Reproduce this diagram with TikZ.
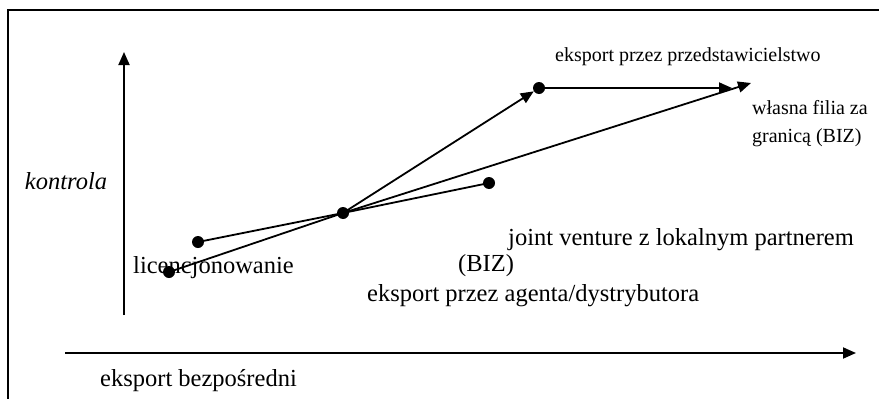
\documentclass[tikz,border=0pt]{standalone}
\usepackage{fontspec}
\setmainfont{Liberation Serif}
\usetikzlibrary{arrows.meta}
\begin{document}
\begin{tikzpicture}[x=1pt,y=-1pt,
  conn/.style={line width=1.8pt},
  arr/.style={line width=1.8pt,-{Triangle[length=13pt,width=11pt]}},
  dotpt/.style={circle,fill=black,inner sep=0pt,minimum size=12pt},
  big/.style={font=\fontsize{24.5}{28}\selectfont,inner sep=0pt},
  small/.style={font=\fontsize{20}{24}\selectfont,inner sep=0pt}]
\useasboundingbox (0,0) rectangle (879,399);
% frame
\draw[line width=1.2pt] (8,399) -- (8,10) -- (879,10);
% axes
\coordinate (v0) at (124,315);
\coordinate (v1) at (124,52);
\coordinate (h0) at (65,353);
\coordinate (h1) at (856,353);
\draw[arr] (v0) -- (v1);
\draw[arr] (h0) -- (h1);
% points
\node[dotpt] (A) at (169,272) {};
\node[dotpt] (B) at (198,242) {};
\node[dotpt] (C) at (343,213) {};
\node[dotpt] (D) at (489,183) {};
\node[dotpt] (E) at (539,88) {};
\coordinate (F) at (732,88);
\coordinate (G) at (751,83);
% connectors
\draw[conn] (A.center) -- (C.center);
\draw[conn] (B.center) -- (C.center) -- (D.center);
\draw[arr] (C.center) -- (G);
\draw[arr] (C.center) -- (E);
\draw[arr] (E.center) -- (F);
% labels
\node[big,font=\fontsize{24.5}{28}\selectfont\itshape] (lk) at (66,181) {kontrola};
\node[small,anchor=west] (le) at (555,57) {eksport przez przedstawicielstwo};
\node[small,anchor=west] (lf1) at (752,108) {własna filia za};
\node[small,anchor=west] (lf2) at (752,138) {granicą (BIZ)};
\node[big,anchor=west] (lj) at (508,240) {joint venture z lokalnym partnerem};
\node[big,anchor=west] (lb) at (458,266) {(BIZ)};
\node[big,anchor=west] (ll) at (133,268) {licencjonowanie};
\node[big,anchor=west] (la) at (367,296) {eksport przez agenta/dystrybutora};
\node[big,anchor=west] (ld) at (100,381) {eksport bezpośredni};
\end{tikzpicture}
\end{document}
